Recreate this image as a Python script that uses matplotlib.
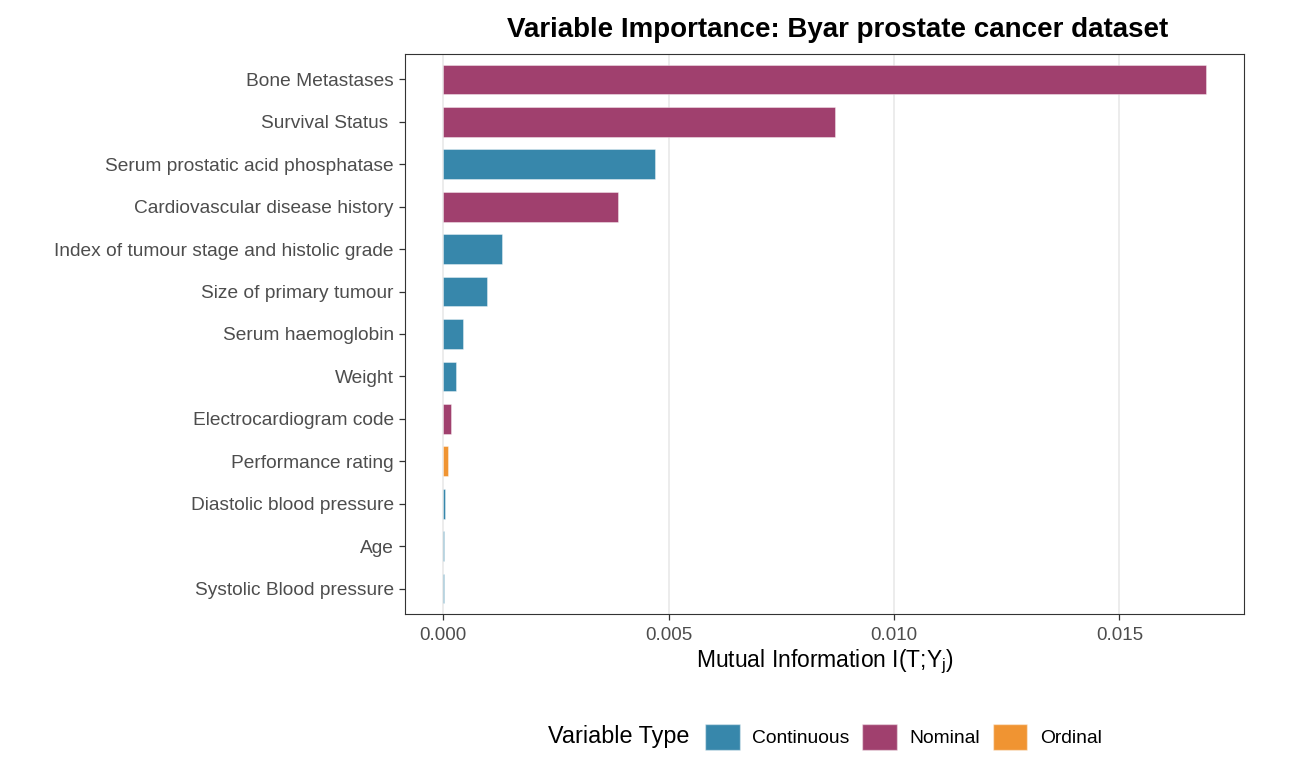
import matplotlib
matplotlib.use("Agg")
import matplotlib.pyplot as plt
from matplotlib.patches import Patch

plt.rcParams['font.family'] = ['Liberation Sans', 'DejaVu Sans']
plt.rcParams['mathtext.fontset'] = 'custom'
plt.rcParams['mathtext.rm'] = 'Liberation Sans'
plt.rcParams['mathtext.it'] = 'Liberation Sans'

variables = ["Bone Metastases", "Survival Status ", "Serum prostatic acid phosphatase",
             "Cardiovascular disease history", "Index of tumour stage and histolic grade",
             "Size of primary tumour", "Serum haemoglobin", "Weight",
             "Electrocardiogram code", "Performance rating", "Diastolic blood pressure",
             "Age", "Systolic Blood pressure"]
importance = [0.01692, 0.00869, 0.00471, 0.00389, 0.00131, 0.00097, 0.00045,
              0.00028, 0.000184, 0.000104, 0.00004, 0.00002, 0.00001]
var_types = ["Nominal", "Nominal", "Continuous", "Nominal", "Continuous", "Continuous",
             "Continuous", "Continuous", "Nominal", "Ordinal", "Continuous",
             "Continuous", "Continuous"]
type_names = ["Continuous", "Nominal", "Ordinal"]
type_colors = {"Continuous": "#3787ab", "Nominal": "#a0406e", "Ordinal": "#f09432"}
x_ticks = [0.0, 0.005, 0.010, 0.015]

fig = plt.figure(figsize=(12.9, 7.8), dpi=100)
ax = fig.add_axes([405/1290, 1-614/780, (1244-405)/1290, (614-54)/780])

n = len(variables)
ypos = list(range(n, 0, -1))
ax.barh(ypos, importance, height=0.7,
        color=[type_colors[t] for t in var_types],
        edgecolor=(1, 1, 1, 0.45), linewidth=0.6, zorder=3)

ax.set_ylim(0.4, n + 0.6)
xmax = max(importance)
ax.set_xlim(-0.05 * xmax, xmax * 1.05)
ax.set_yticks(ypos)
ax.set_yticklabels(variables)
ax.set_xticks(x_ticks)
ax.set_xticklabels([f"{v:.3f}" for v in x_ticks])
ax.grid(axis='x', color='#ebebeb', linewidth=1.3, zorder=0)
ax.set_axisbelow(True)
for s in ax.spines.values():
    s.set_color('#333333')
    s.set_linewidth(0.8)
ax.tick_params(axis='both', colors='#333333', labelcolor='#4d4d4d',
               length=4, width=0.9, direction='out')
ax.tick_params(axis='y', labelsize=13.8, pad=4)
ax.tick_params(axis='x', labelsize=13.5, pad=5)

ax.set_xlabel(r'Mutual Information I(T;Y$_{\mathrm{j}}$)', fontsize=16.5,
              color='black', labelpad=3)
fig.text(838/1290, 1-30/780, "Variable Importance: Byar prostate cancer dataset",
         fontsize=20, fontweight='bold', ha='center', va='center')

fig.text(548/1290, 1-737/780, "Variable Type", fontsize=16.8, va='center', ha='left')
handles = [Patch(facecolor=type_colors[t], edgecolor=(1, 1, 1, 0.45)) for t in type_names]
fig.legend(handles, type_names, loc='center left', bbox_to_anchor=(705/1290, 1-737/780),
           ncol=3, frameon=False, fontsize=13.9, handlelength=1.8, handleheight=1.75,
           handletextpad=0.65, columnspacing=0.65, borderaxespad=0, borderpad=0)

fig.savefig("out.png", dpi=100)
